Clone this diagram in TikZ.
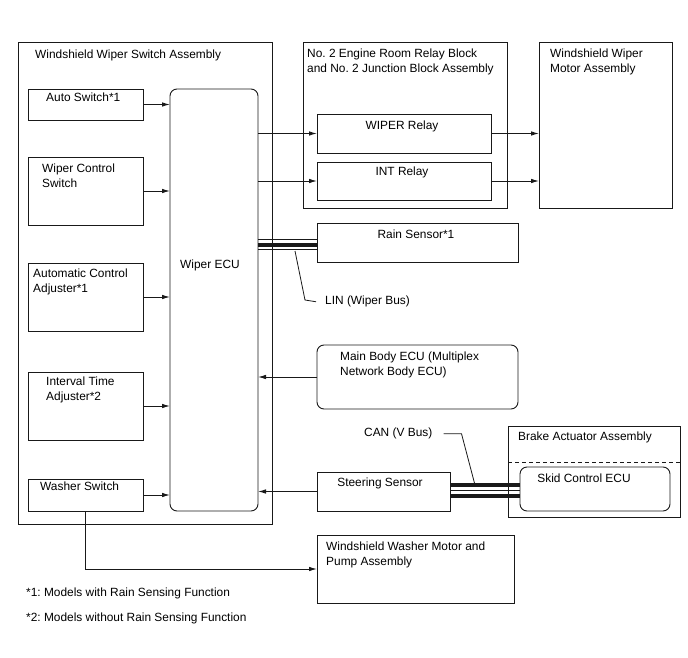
\documentclass[tikz,border=0pt]{standalone}
\usepackage{fontspec}
\setmainfont{Liberation Sans}
\usepackage{tikz}
\usetikzlibrary{arrows.meta, positioning, calc}
\definecolor{wireblack}{RGB}{25, 25, 25}
\tikzset{
  part/.style={draw=wireblack, line width=0.9pt, inner sep=0pt, outer sep=0pt},
  ecubox/.style={part, rounded corners=7pt},
  txt/.style={inner sep=0pt, anchor=north west, align=left,
    font=\fontsize{11.9}{14.5}\selectfont},
  ctxt/.style={txt, anchor=north, align=center},
  arr/.style={draw=wireblack, line width=0.9pt, -{Latex[length=8pt,width=4.5pt]}},
  leader/.style={draw=wireblack, line width=0.8pt},
  thickbus/.style={draw=wireblack, line width=4pt},
  thinbus/.style={draw=wireblack, line width=0.9pt}
}
\newcommand{\partbox}[6][part]{%
  \node[#1, anchor=north west, minimum width={(#5-#3)*1pt},
    minimum height={(#6-#4)*1pt}] (#2) at (#3,#4) {};
}
\frenchspacing

\begin{document}
\begin{tikzpicture}[x=1pt, y=-1pt]
    \useasboundingbox (0,0) rectangle (688,658);
    % Assemblies
    \partbox{swassy}{18}{42}{272}{524}
    \partbox{relayblk}{303}{42}{507}{208}
    \partbox{motor}{539}{42}{672}{208}
    \partbox{brake}{508}{426}{680}{517}
    % Switches inside the switch assembly
    \partbox{autosw}{28}{89}{143}{120}
    \partbox{ctrlsw}{28}{157}{143}{225}
    \partbox{autoadj}{28}{263}{143}{331}
    \partbox{intadj}{28}{372}{143}{440}
    \partbox{washsw}{28}{479}{143}{511}
    \partbox[ecubox]{wecu}{170}{89}{258}{511}
    % Relays
    \partbox{wiperrly}{317}{114}{491}{153}
    \partbox{intrly}{317}{162}{491}{200}
    % Other units
    \partbox{rain}{317}{223}{518}{262}
    \partbox[ecubox]{mainecu}{317}{345}{518}{409}
    \partbox{steer}{317}{472}{450}{511}
    \partbox[ecubox]{skid}{520}{467}{670}{511}
    \partbox{washmtr}{317}{535}{514}{603}
    % Texts
    \node[txt] (t1) at (35,50) {Windshield Wiper Switch Assembly};
    \node[txt] (t2) at (46,93) {Auto Switch*1};
    \node[txt] (t3) at (42,164) {Wiper Control\\Switch};
    \node[txt] (t4) at (33,269) {Automatic Control\\Adjuster*1};
    \node[txt] (t5) at (46,377) {Interval Time\\Adjuster*2};
    \node[txt] (t6) at (40,482) {Washer Switch};
    \node[txt] (t7) at (180,260) {Wiper ECU};
    \node[txt] (t8) at (307,49) {No. 2 Engine Room Relay Block\\and No. 2 Junction Block Assembly};
    \node[txt] (t9) at (550,49) {Windshield Wiper\\Motor Assembly};
    \node[ctxt] (t10) at (402,121) {WIPER Relay};
    \node[ctxt] (t11) at (402,167) {INT Relay};
    \node[ctxt] (t12) at (416,230) {Rain Sensor*1};
    \node[txt] (linlbl) at (325,296) {LIN (Wiper Bus)};
    \node[txt] (t13) at (340,352) {Main Body ECU (Multiplex\\Network Body ECU)};
    \node[txt] (canlbl) at (364,428) {CAN (V Bus)};
    \node[txt] (t14) at (518,432) {Brake Actuator Assembly};
    \node[ctxt] (t15) at (584,474) {Skid Control ECU};
    \node[ctxt] (t16) at (380,478) {Steering Sensor};
    \node[txt] (t17) at (326,542) {Windshield Washer Motor and\\Pump Assembly};
    \node[txt] (fn1) at (26,588) {*1: Models with Rain Sensing Function};
    \node[txt] (fn2) at (26,613) {*2: Models without Rain Sensing Function};
    % Dashed split in brake actuator
    \draw[wireblack, line width=0.8pt, dash pattern=on 4pt off 3pt]
      (brake.west |- 0,462) -- (brake.east |- 0,462);
    % Switch inputs to Wiper ECU
    \foreach \s in {autosw, ctrlsw, autoadj, intadj, washsw}
      \draw[arr] (\s.east) -- (\s.east -| wecu.west);
    % Wiper ECU to relays to motor
    \foreach \r in {wiperrly, intrly} {
      \draw[arr] (\r.west -| wecu.east) -- (\r.west);
      \draw[arr] (\r.east) -- (\r.east -| motor.west);
    }
    % Inputs from other ECUs
    \draw[arr] (mainecu.west) -- (mainecu.west -| wecu.east);
    \draw[arr] (steer.west) -- (steer.west -| wecu.east);
    % Washer switch to washer motor
    \draw[arr] (washsw.south) |- (washmtr.west);
    % LIN bus
    \draw[thickbus] ($(wecu.east |- rain.west)+(0,2)$) -- ($(rain.west)+(0,2)$);
    \draw[thinbus] ($(wecu.east |- rain.west)+(0,-3)$) -- ($(rain.west)+(0,-3)$);
    \draw[thinbus] ($(wecu.east |- rain.west)+(0,7)$) -- ($(rain.west)+(0,7)$);
    \coordinate (lintap) at (295,251);
    \draw[leader] (lintap) -- (305,300) -- ([xshift=-9pt]linlbl.west);
    % CAN bus
    \draw[thickbus] ($(steer.east)+(0,-6.5)$) -- ($(skid.west |- steer.east)+(0,-6.5)$);
    \draw[thinbus] ($(steer.east)+(0,-1)$) -- ($(skid.west |- steer.east)+(0,-1)$);
    \draw[thickbus] ($(steer.east)+(0,4.5)$) -- ($(skid.west |- steer.east)+(0,4.5)$);
    \coordinate (cantap) at (475,485);
    \draw[leader] ([xshift=11pt]canlbl.east) -- ++(18,0) -- (cantap);
\end{tikzpicture}
\end{document}
